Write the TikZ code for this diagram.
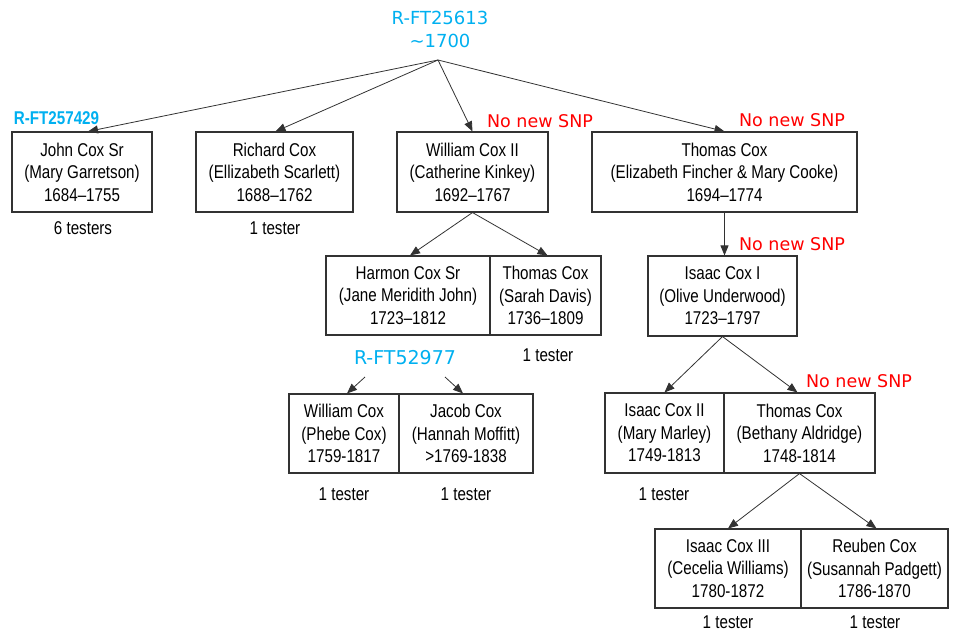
\documentclass[tikz,border=0pt]{standalone}
\usepackage{fontspec}
\setmainfont{Liberation Sans}[FakeStretch=0.82]
\newfontfamily\boldnarrow{Liberation Sans Bold}[FakeStretch=0.82]
\newfontfamily\comicish{DejaVu Sans}
\usetikzlibrary{arrows.meta}
\definecolor{snpblue}{RGB}{0,176,240}
\definecolor{snpred}{RGB}{255,0,0}
\definecolor{boxline}{RGB}{50,50,50}
\begin{document}
\begin{tikzpicture}[x=1pt,y=-1pt,
  person/.style={draw=boxline,line width=1.1pt,rectangle,inner sep=0pt,align=center,
     font=\fontsize{18.5}{22.5}\selectfont,text=black},
  testers/.style={font=\fontsize{18.5}{22.5}\selectfont,inner sep=0pt},
  nonew/.style={font=\comicish\fontsize{17.5}{20}\selectfont,text=snpred,inner sep=0pt},
  hap/.style={font=\comicish\fontsize{18}{23}\selectfont,text=snpblue,inner sep=0pt,align=center},
  link/.style={draw=boxline,line width=0.8pt,-{Triangle[length=10pt,width=8pt]}}]
\useasboundingbox (0,0) rectangle (967,632);

% top label
\node[hap] (top) at (440,29) {R-FT25613\\\textasciitilde1700};
\coordinate (root) at (438,60);

% generation 1
\node[person,minimum width=140pt,minimum height=80pt] (john) at (82,172)
  {John Cox Sr\\(Mary Garretson)\\1684–1755};
\node[person,minimum width=157pt,minimum height=80pt] (richard) at (274.5,172)
  {Richard Cox\\(Ellizabeth Scarlett)\\1688–1762};
\node[person,minimum width=151pt,minimum height=80pt] (william) at (472.5,172)
  {William Cox II\\(Catherine Kinkey)\\1692–1767};
\node[person,minimum width=265pt,minimum height=80pt] (thomas) at (724.5,172)
  {Thomas Cox\\(Elizabeth Fincher \& Mary Cooke)\\1694–1774};

\node[font=\boldnarrow\fontsize{18.5}{20}\selectfont,text=snpblue,inner sep=0pt] (hapjohn) at (56.5,118) {R-FT257429};
\node[nonew] (nsw) at (540,121) {No new SNP};
\node[nonew] (nst) at (792,120) {No new SNP};

\node[testers] (tjohn) at (83,228) {6 testers};
\node[testers] (trichard) at (275,228) {1 tester};

% generation 2
\node[person,minimum width=164pt,minimum height=79pt] (harmon) at (408,295.5)
  {Harmon Cox Sr\\(Jane Meridith John)\\1723–1812};
\node[person,minimum width=111pt,minimum height=79pt] (thomas2) at (545.5,295.5)
  {Thomas Cox\\(Sarah Davis)\\1736–1809};
\node[person,minimum width=149pt,minimum height=80pt] (isaac1) at (722.5,296)
  {Isaac Cox I\\(Olive Underwood)\\1723–1797};
\node[nonew] (nsi) at (792,244) {No new SNP};
\node[testers] (tthomas2) at (548,355) {1 tester};

% generation 3
\node[hap,font=\comicish\fontsize{19}{22}\selectfont] (hap52977) at (405,358) {R-FT52977};
\coordinate (hapl) at (365,377);
\coordinate (hapr) at (445,377);
\node[person,minimum width=110pt,minimum height=79pt] (wphebe) at (344,433.5)
  {William Cox\\(Phebe Cox)\\1759-1817};
\node[person,minimum width=134pt,minimum height=79pt] (jacob) at (466,433.5)
  {Jacob Cox\\(Hannah Moffitt)\\>1769-1838};
\node[testers] (twphebe) at (344,494) {1 tester};
\node[testers] (tjacob) at (466,494) {1 tester};

\node[person,minimum width=119pt,minimum height=80pt] (isaac2) at (664.5,433)
  {Isaac Cox II\\(Mary Marley)\\1749-1813};
\node[person,minimum width=151pt,minimum height=80pt] (thomas3) at (799.5,433)
  {Thomas Cox\\(Bethany Aldridge)\\1748-1814};
\node[nonew] (nstb) at (859,381) {No new SNP};
\node[testers] (tisaac2) at (664,494) {1 tester};

% generation 4
\node[person,minimum width=146pt,minimum height=79pt] (isaac3) at (728,568.5)
  {Isaac Cox III\\(Cecelia Williams)\\1780-1872};
\node[person,minimum width=147pt,minimum height=79pt] (reuben) at (874.5,568.5)
  {Reuben Cox\\(Susannah Padgett)\\1786-1870};
\node[testers] (tisaac3) at (728,622) {1 tester};
\node[testers] (treuben) at (875,622) {1 tester};

% connectors
\draw[link] (root) -- ([xshift=6pt]john.north);
\draw[link] (root) -- ([xshift=1pt]richard.north);
\draw[link] (root) -- (william.north);
\draw[link] (root) -- (thomas.north);
\draw[link] (william.south) -- ([xshift=2pt]harmon.north);
\draw[link] (william.south) -- ([xshift=2pt]thomas2.north);
\draw[link] (thomas.south) -- (thomas.south |- isaac1.north);
\draw[link] (hapl) -- ([xshift=3pt]wphebe.north);
\draw[link] (hapr) -- ([xshift=-3pt]jacob.north);
\draw[link] (isaac1.south) -- (isaac2.north);
\draw[link] (isaac1.south) -- ([xshift=-2pt]thomas3.north);
\draw[link] (thomas3.south) -- (isaac3.north);
\draw[link] (thomas3.south) -- ([xshift=2pt]reuben.north);
\end{tikzpicture}
\end{document}
